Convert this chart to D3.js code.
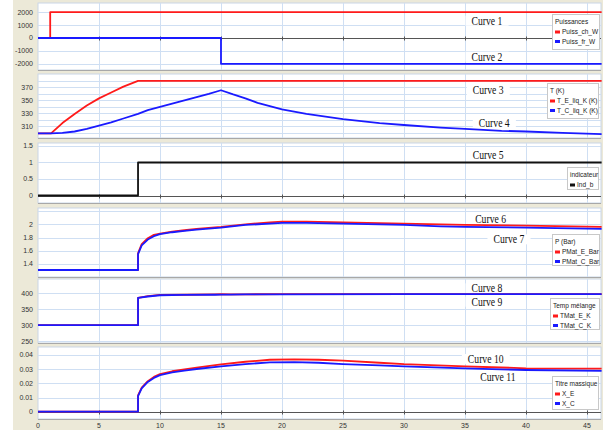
<!DOCTYPE html>
<html><head><meta charset="utf-8">
<script src="https://cdn.jsdelivr.net/npm/d3@7"></script>
<style>body{margin:0;background:#fff}svg{display:block}</style>
</head><body>
<script>
// ---------- DATA ----------
const xTicks = [0,5,10,15,20,25,30,35,40,45];

// Panel 1 : Puissances
const p1_t_ch = [0, 1.0, 1.0, 46.2];
const p1_ch   = [0, 0, 2000, 2000];
const p1_t_fr = [0, 15, 15, 46.2];
const p1_fr   = [0, 0, -2000, -2000];
const p1_ticks = [-2000,-1000,0,1000,2000];

// Panel 2 : T (K)
const p2_t_E = [0,1.07,2,3,4,5,6,7,8.2,46.2];
const p2_E   = [299,299,315,329,342,353,362,371,380,380];
const p2_t_C = [0,1.07,2,3,4,5,6,7,8.2,9,10,11,12,13,14,15,16,17,18,19,20,22,25,28,30,33,35,38,40,43,46.2];
const p2_C   = [299,299,300,302,306,311,316,322,329,335,340,345,350,355,360,365.5,359,353,346,341,336,329,321,315,312,308,306,303,302,300,298];
const p2_ticks = [310,330,350,370];
const p2_grid  = [300,310,320,330,340,350,360,370,380,390];

// Panel 3 : indicateur
const p3_t = [0, 8.2, 8.2, 46.2];
const p3_v = [0, 0, 1, 1];
const p3_ticks = [0,0.5,1,1.5];

// Panel 4 : P (Bar)
const p4_t = [0,8.2,8.2,8.5,9,9.5,10,11,12,13,15,17,19,20,22,25,30,33,35,40,46.2];
const p4_E = [1.31,1.31,1.56,1.70,1.79,1.84,1.86,1.89,1.91,1.93,1.96,2.00,2.03,2.04,2.04,2.03,2.01,2.00,1.99,1.98,1.96];
const p4_C = [1.31,1.31,1.55,1.68,1.77,1.82,1.85,1.88,1.90,1.92,1.95,1.99,2.01,2.02,2.02,2.01,1.99,1.97,1.96,1.95,1.93];
const p4_ticks = [1.4,1.6,1.8,2];
const p4_grid  = [1.4,1.6,1.8,2,2.2];

// Panel 5 : Temp mélange
const p5_t = [0,8.2,8.2,9,10,12,14.5,15,15.8,17,20,30,46.2];
const p5_E = [300,300,386,391,395,395.5,397,397.5,397,397,397.5,397.5,397.5];
const p5_C = [300,300,386,390,394,395,395.5,396,396,396.5,397,397.5,397.5];
const p5_ticks = [250,300,350,400];

// Panel 6 : Titre massique
const p6_t = [0,8.2,8.2,8.5,9,9.5,10,11,12,13,15,17,19,21,23,25,28,30,35,40,46.2];
const p6_E = [0,0,0.0115,0.017,0.0215,0.0245,0.0265,0.0285,0.0298,0.031,0.0333,0.0352,0.0366,0.0369,0.0366,0.036,0.0345,0.0335,0.032,0.0306,0.0303];
const p6_C = [0,0,0.011,0.0165,0.021,0.0238,0.0258,0.0277,0.029,0.0301,0.032,0.0336,0.0347,0.035,0.0345,0.0336,0.0326,0.032,0.0306,0.0294,0.0288];
const p6_ticks = [0,0.01,0.02,0.03,0.04];

// ---------- LAYOUT ----------
const W = 603, H = 430;
const RED = "#ff1a1a", BLUE = "#1a1aff", BLACK = "#111";
const zip = (t, v) => t.map((d, i) => [d, v[i]]);

const panels = [
  {top:3, bottom:70, domain:[-2481,2713], ticks:p1_ticks, grid:p1_ticks, zero:true, fmt:d=>d,
   series:[{d:zip(p1_t_ch,p1_ch),c:RED},{d:zip(p1_t_fr,p1_fr),c:BLUE}],
   legend:{title:"Puissances", items:[["Puiss_ch_W",RED],["Puiss_fr_W",BLUE]], x:552, y:14, w:47, h:35},
   labels:[["Curve 1",36.8,1341],["Curve 2",36.8,-1450]]},
  {top:74, bottom:138, domain:[292,390.5], ticks:p2_ticks, grid:p2_grid, zero:false, fmt:d=>d,
   series:[{d:zip(p2_t_E,p2_E),c:RED},{d:zip(p2_t_C,p2_C),c:BLUE}],
   legend:{title:"T (K)", items:[["T_E_liq_K (K)",RED],["T_C_liq_K (K)",BLUE]], x:547, y:83, w:51, h:35},
   labels:[["Curve 3",36.9,365.8],["Curve 4",37.4,315.5]]},
  {top:143, bottom:203, domain:[-0.227,1.59], ticks:p3_ticks, grid:p3_ticks, zero:true, fmt:d=>d,
   series:[{d:zip(p3_t,p3_v),c:BLACK}],
   legend:{title:"indicateur", items:[["Ind_b",BLACK]], x:567, y:167, w:31, h:22},
   labels:[["Curve 5",36.9,1.227]]},
  {top:208, bottom:277, domain:[1.204,2.246], ticks:p4_ticks, grid:p4_grid, zero:false, fmt:d=>d,
   series:[{d:zip(p4_t,p4_E),c:RED},{d:zip(p4_t,p4_C),c:BLUE}],
   legend:{title:"P (Bar)", items:[["PMat_E_Bar",RED],["PMat_C_Bar",BLUE]], x:552, y:234, w:47, h:31},
   labels:[["Curve 6",37.1,2.08],["Curve 7",38.6,1.773]]},
  {top:279, bottom:343, domain:[244,445], ticks:p5_ticks, grid:p5_ticks, zero:false, fmt:d=>d,
   series:[{d:zip(p5_t,p5_E),c:RED},{d:zip(p5_t,p5_C),c:BLUE}],
   legend:{title:"Temp mélange", items:[["TMat_E_K",RED],["TMat_C_K",BLUE]], x:550, y:298, w:49, h:31},
   labels:[["Curve 8",36.8,415.7],["Curve 9",36.8,373.6]]},
  {top:347, bottom:419, domain:[-0.00515,0.0456], ticks:p6_ticks, grid:p6_ticks, zero:true, fmt:d=>d,
   series:[{d:zip(p6_t,p6_E),c:RED},{d:zip(p6_t,p6_C),c:BLUE}],
   legend:{title:"Titre massique", items:[["X_E",RED],["X_C",BLUE]], x:552, y:376, w:46, h:33},
   labels:[["Curve 10",36.7,0.0372],["Curve 11",37.7,0.0247]]}
];

const plotL = 38, plotR = 601;
const x = d3.scaleLinear().domain([0, 46.15]).range([plotL, plotR]);

const svg = d3.select("body").append("svg").attr("width", W).attr("height", H);
svg.append("rect").attr("width", W).attr("height", H).attr("fill", "#fff");
svg.append("rect").attr("x", 13).attr("y", 0).attr("width", W-13).attr("height", H).attr("fill", "#ece9d8");

panels.forEach(p => {
  const y = d3.scaleLinear().domain(p.domain).range([p.bottom, p.top]);
  const g = svg.append("g");
  g.append("rect").attr("x", plotL).attr("y", p.top).attr("width", plotR-plotL).attr("height", p.bottom-p.top)
    .attr("fill", "#fff").attr("stroke", "#c9d6e6").attr("stroke-width", 1);
  g.append("line").attr("x1", plotL).attr("x2", plotR).attr("y1", p.bottom+0.5).attr("y2", p.bottom+0.5)
    .attr("stroke", "#a8a8a8").attr("stroke-width", 1);
  g.selectAll(".vg").data(xTicks.filter(d=>d>0)).join("line")
    .attr("x1", d=>Math.round(x(d))+0.5).attr("x2", d=>Math.round(x(d))+0.5)
    .attr("y1", p.top).attr("y2", p.bottom).attr("stroke", "#cfdff3").attr("stroke-width", 1);
  g.selectAll(".hg").data(p.grid.filter(d=>y(d)>p.top+0.5 && y(d)<p.bottom-0.5)).join("line")
    .attr("x1", plotL).attr("x2", plotR)
    .attr("y1", d=>Math.round(y(d))+0.5).attr("y2", d=>Math.round(y(d))+0.5)
    .attr("stroke", "#cfdff3").attr("stroke-width", 1);
  if (p.zero) {
    const y0 = Math.round(y(0))+0.5;
    g.append("line").attr("x1", plotL).attr("x2", plotR).attr("y1", y0).attr("y2", y0)
      .attr("stroke", "#555").attr("stroke-width", 1);
    g.selectAll(".zt").data(xTicks.filter(d=>d>0)).join("line")
      .attr("x1", d=>Math.round(x(d))+0.5).attr("x2", d=>Math.round(x(d))+0.5)
      .attr("y1", y0-2).attr("y2", y0+2).attr("stroke", "#555");
  }
  g.selectAll(".yl").data(p.ticks).join("text")
    .attr("x", 33).attr("y", d=>y(d)).attr("dy", "0.35em").attr("text-anchor", "end")
    .attr("font-family", "Liberation Sans, Arial, sans-serif").attr("font-size", 7).attr("fill", "#333")
    .text(p.fmt);
  // curve labels (under the lines)
  p.labels.forEach(l => {
    const lx = x(l[1]), ly = y(l[2]);
    const t = g.append("text").attr("x", lx).attr("y", ly).attr("dy", "0.35em").attr("text-anchor", "middle")
      .attr("font-family", "Liberation Serif, Times New Roman, serif").attr("font-size", 11.5).attr("fill", "#111")
      .text(l[0]);
    const w0 = t.node().getComputedTextLength();
    t.attr("textLength", w0*0.84).attr("lengthAdjust", "spacingAndGlyphs");
    const bb = t.node().getBBox();
    g.insert("rect", () => t.node()).attr("x", bb.x-6).attr("y", bb.y+1).attr("width", bb.width+12).attr("height", bb.height-2)
      .attr("fill", "#fff");
  });
  const line = d3.line().x(d=>x(d[0])).y(d=>y(d[1]));
  p.series.forEach(s => {
    g.append("path").attr("d", line(s.d)).attr("fill", "none").attr("stroke", s.c)
      .attr("stroke-width", 1.8).attr("stroke-linejoin", "round");
  });
  const L = p.legend;
  const lg = g.append("g");
  lg.append("rect").attr("x", L.x+0.5).attr("y", L.y+0.5).attr("width", L.w).attr("height", L.h)
    .attr("fill", "#fff").attr("stroke", "#c8c8c8");
  lg.append("text").attr("x", L.x+3).attr("y", L.y+8).attr("dy", "0.35em")
    .attr("font-family", "Liberation Sans, Arial, sans-serif").attr("font-size", 6.5).attr("fill", "#222").text(L.title);
  L.items.forEach((it, i) => {
    const iy = L.y + 18 + i*9.5;
    lg.append("rect").attr("x", L.x+3).attr("y", iy-1.5).attr("width", 5).attr("height", 3).attr("fill", it[1]);
    lg.append("text").attr("x", L.x+10).attr("y", iy).attr("dy", "0.35em")
      .attr("font-family", "Liberation Sans, Arial, sans-serif").attr("font-size", 6.5).attr("fill", "#222").text(it[0]);
  });
});

svg.selectAll(".xl").data(xTicks).join("text")
  .attr("x", d=>x(d)).attr("y", 425.5).attr("dy", "0.35em").attr("text-anchor", "middle")
  .attr("font-family", "Liberation Sans, Arial, sans-serif").attr("font-size", 7).attr("fill", "#333")
  .text(d=>d);
</script>
</body></html>
